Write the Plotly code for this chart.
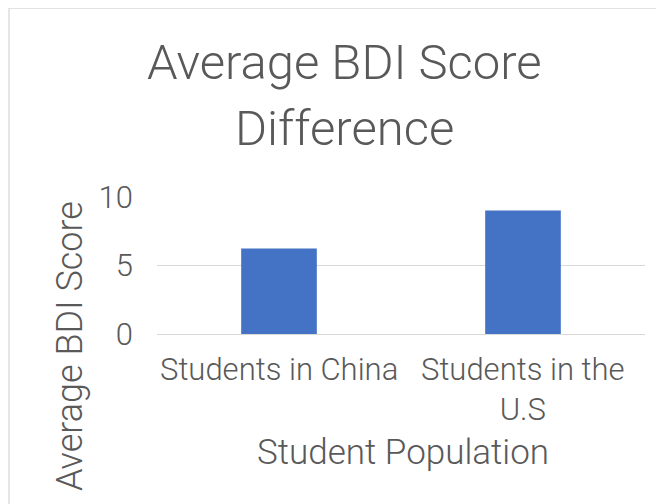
import plotly.graph_objects as go

categories = ["Students in China", "Students in the U.S"]
tick_labels = ["Students in China", "Students in the<br>U.S"]
scores = [6.24, 9.01]
y_ticks = [0, 5, 10]
title_lines = ["Average BDI Score", "Difference"]
x_title = "Student Population"
y_title = "Average BDI Score"

FONT = "Roboto"
GRAY = "#595959"
OFF = 8  # page body margin offset
W, H = 664 - OFF, 504 - OFF
PL, PR, PT, PB = 157, 645, 197, 334  # target plot area in screenshot pixels
L, R, T, B = PL - OFF, W - (PR - OFF), PT - OFF, H - (PB - OFF)
pw, ph = PR - PL, PB - PT

def px_x(p):
    return (p - PL) / pw

def px_y(p):
    return (PB - p) / ph

fig = go.Figure(go.Bar(x=categories, y=scores, marker_color="#4472C4",
                       marker_line_width=0, width=0.31))

ann = []
for i, ln in enumerate(title_lines):
    ann.append(dict(text=ln, xref="paper", yref="paper", x=px_x(344), y=px_y(62 + 66 * i),
                    xanchor="center", yanchor="middle", showarrow=False,
                    font=dict(family=FONT, size=49, color=GRAY, weight=300)))
ann.append(dict(text=y_title, xref="paper", yref="paper", x=px_x(70), y=px_y(346),
                xanchor="center", yanchor="middle", textangle=-90, showarrow=False,
                font=dict(family=FONT, size=36, color=GRAY, weight=300)))
ann.append(dict(text=x_title, xref="paper", yref="paper", x=px_x(403), y=px_y(452),
                xanchor="center", yanchor="middle", showarrow=False,
                font=dict(family=FONT, size=35, color=GRAY, weight=300)))
for cat, lab in zip(categories, tick_labels):
    ann.append(dict(text=lab, xref="x", yref="paper", x=cat, y=px_y(349),
                    xanchor="center", yanchor="top", showarrow=False,
                    font=dict(family=FONT, size=31, color=GRAY, weight=300)))

fig.update_layout(
    width=W, height=H, autosize=False,
    margin=dict(l=L, r=R, t=T, b=B, pad=0),
    paper_bgcolor="white", plot_bgcolor="white",
    showlegend=False,
    annotations=ann,
    shapes=[dict(type="rect", xref="paper", yref="paper",
                 x0=px_x(9), y0=px_y(560), x1=px_x(700), y1=px_y(8),
                 line=dict(color="#d9d9d9", width=1.3), fillcolor="rgba(0,0,0,0)", layer="below")],
    xaxis=dict(showticklabels=False, showgrid=False, zeroline=False, showline=False,
               ticks="", fixedrange=True),
    yaxis=dict(range=[0, 10], tickvals=y_ticks, showgrid=True, gridcolor="#d9d9d9",
               gridwidth=1.3, zeroline=True, zerolinecolor="#d9d9d9", zerolinewidth=1.3,
               showline=False, ticks="", ticklabelstandoff=23, fixedrange=True,
               tickfont=dict(family=FONT, size=31, color=GRAY, weight=300)),
)

fig.write_html("out.html")
